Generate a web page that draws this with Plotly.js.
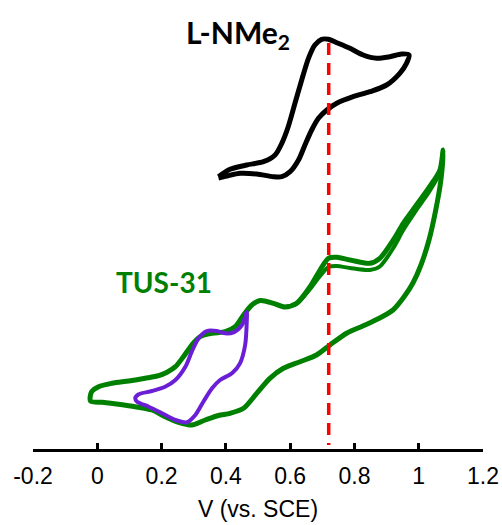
<!DOCTYPE html>
<html>
<head>
<meta charset="utf-8">
<script src="https://cdn.plot.ly/plotly-3.0.1.min.js"></script>
<style>html,body{margin:0;padding:0;background:#fff;}#chart{width:502px;height:525px;}</style>
</head>
<body>
<div id="chart"></div>
<script>
// Potential (V vs. SCE) and current (arbitrary units)
const nme2V = [0.377,0.413,0.465,0.517,0.553,0.574,0.594,0.615,0.636,0.657,0.677,0.698,0.719,0.745,0.786,0.827,0.869,0.910,0.947,0.970,
  0.962,0.941,0.900,0.848,0.796,0.745,0.714,0.688,0.667,0.646,0.626,0.600,0.574,0.548,0.496,0.444,0.403,0.377];
const nme2I = [27.23,27.97,28.40,28.73,29.40,30.57,32.23,34.57,36.90,39.07,40.40,40.97,40.97,40.63,40.07,39.40,39.07,39.23,39.50,39.40,
  38.57,37.57,36.40,35.73,35.23,34.57,33.90,33.07,31.90,30.40,28.90,27.73,27.23,27.23,27.50,27.57,27.30,27.10];

const tusV = [-0.021,-0.018,0.004,0.046,0.098,0.149,0.191,0.217,0.243,0.268,0.294,0.320,0.357,0.398,0.429,0.455,0.481,0.507,0.548,0.584,
  0.620,0.662,0.693,0.719,0.745,0.786,0.848,0.879,0.921,0.952,0.993,1.034,1.066,1.076,
  1.069,1.053,1.032,1.007,0.982,0.954,0.920,0.879,0.826,0.777,0.724,0.682,0.631,0.579,0.537,0.496,0.455,0.413,0.377,0.336,
  0.294,0.253,0.211,0.170,0.118,0.066,0.015,-0.021];
const tusI = [4.80,5.70,6.23,6.57,6.80,7.07,7.33,7.67,8.23,9.23,10.40,11.23,11.57,11.73,12.23,13.40,14.40,14.85,14.57,14.20,
  14.57,16.23,17.90,19.07,19.17,18.90,18.57,19.07,20.90,22.57,24.40,26.23,27.90,29.90,
  26.90,23.90,20.90,18.40,16.60,15.20,13.90,13.10,12.30,11.60,10.40,9.40,8.73,8.07,7.07,5.57,4.07,3.57,3.35,2.90,
  2.40,2.67,3.23,3.90,4.23,4.47,4.67,4.80];

// second anodic sweep of TUS-31 (slightly lower in the 0.7-1.0 V region)
const tus2V = [0.584,0.620,0.662,0.693,0.719,0.745,0.786,0.848,0.879,0.921,0.952,0.993,1.034,1.066,1.076];
const tus2I = [14.20,14.50,16.00,17.30,18.20,18.30,18.10,17.90,18.25,20.10,21.90,23.90,25.80,27.70,29.90];

const smallV = [0.118,0.129,0.170,0.211,0.243,0.274,0.294,0.315,0.341,0.372,0.398,0.424,0.450,0.465,
  0.465,0.460,0.444,0.419,0.382,0.357,0.330,0.305,0.279,0.243,0.201,0.160,0.124,0.118];
const smallI = [5.07,5.47,5.80,6.23,6.90,8.23,9.73,11.07,11.80,11.80,11.57,11.67,12.40,13.70,
  12.73,10.40,8.57,7.57,6.90,6.07,4.73,3.40,2.67,2.90,3.57,4.23,4.73,5.07];

const markerV = [0.72, 0.72];
const markerI = [40.6, 0.4];

const tickVals = [-0.2,0,0.2,0.4,0.6,0.8,1,1.2];
const tickText = ["-0.2","0","0.2","0.4","0.6","0.8","1","1.2"];

const traces = [
  {x: nme2V, y: nme2I, mode: 'lines', line: {color: '#000000', width: 5, shape: 'spline', smoothing: 0.8}, hoverinfo: 'skip'},
  {x: tusV, y: tusI, mode: 'lines', line: {color: '#008000', width: 5, shape: 'spline', smoothing: 0.8}, hoverinfo: 'skip'},
  {x: tus2V, y: tus2I, mode: 'lines', line: {color: '#008000', width: 4, shape: 'spline', smoothing: 0.8}, hoverinfo: 'skip'},
  {x: smallV, y: smallI, mode: 'lines', line: {color: '#6a1fd6', width: 4, shape: 'spline', smoothing: 0.8}, hoverinfo: 'skip'},
  {x: markerV, y: markerI, mode: 'lines', line: {color: '#ff0000', width: 3.5, dash: '12px,8px'}, hoverinfo: 'skip'}
];

const layout = {
  width: 502, height: 525,
  margin: {l: 32.5, r: 18.5, t: 0, b: 76},
  paper_bgcolor: '#ffffff', plot_bgcolor: '#ffffff',
  showlegend: false,
  xaxis: {
    range: [-0.2, 1.2], tickvals: tickVals, ticktext: tickText,
    showgrid: false, zeroline: false, showline: true, linecolor: '#000', linewidth: 3,
    ticks: 'inside', ticklen: 6, tickwidth: 3, tickcolor: '#000',
    ticklabelstandoff: 4,
    tickfont: {family: 'Liberation Sans, Arial, sans-serif', size: 23, color: '#000'},
    title: {text: 'V (vs. SCE)', font: {family: 'Liberation Sans, Arial, sans-serif', size: 23, color: '#000'}, standoff: 14}
  },
  yaxis: {range: [0, 44.9], visible: false, showgrid: false, zeroline: false},
  annotations: [
    {x: 0.437, y: 41.5, xref: 'x', yref: 'y', text: '<b>L-NMe<sub>2</sub></b>', showarrow: false,
     font: {family: 'Lato, Open Sans, sans-serif', size: 30, color: '#000'}, xanchor: 'center', yanchor: 'middle'},
    {x: 0.208, y: 16.7, xref: 'x', yref: 'y', text: '<b>TUS-31</b>', showarrow: false,
     font: {family: 'Lato, Open Sans, sans-serif', size: 28, color: '#008000'}, xanchor: 'center', yanchor: 'middle'}
  ]
};

Plotly.newPlot('chart', traces, layout, {displayModeBar: false, staticPlot: true});
</script>
</body>
</html>
